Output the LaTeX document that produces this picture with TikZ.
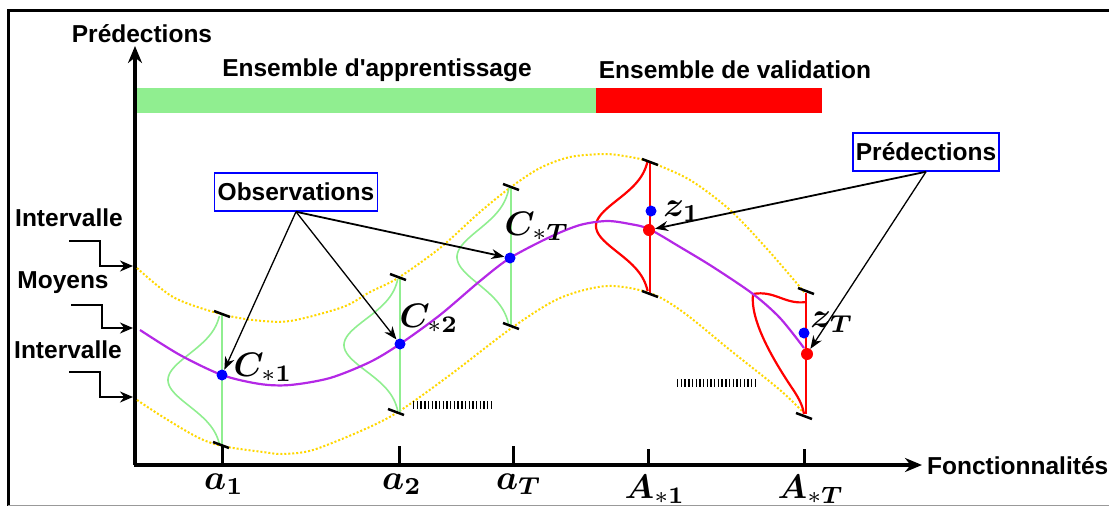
\documentclass[tikz,border=0pt]{standalone}
\usepackage[no-math]{fontspec}
\setmainfont{Liberation Sans}[Ligatures=TeXOff]
\usepackage{amsmath,bm}
\usetikzlibrary{arrows.meta}
\definecolor{lgreen}{HTML}{90EE90}
\definecolor{gold}{HTML}{FFD700}
\definecolor{purp}{RGB}{180,40,230}
\tikzset{
  lbl/.style={font=\fontsize{24.5}{28}\selectfont\bfseries, inner sep=0pt},
  callbox/.style={lbl, draw=blue, line width=1.5pt, inner sep=3pt, minimum height=38pt},
  bdot/.style={circle, fill=blue, inner sep=0pt, minimum size=11pt},
  rdot/.style={circle, fill=red, inner sep=0pt, minimum size=12pt},
  ytraj/.style={draw=gold, line width=2pt, dash pattern=on 2pt off 2pt},
  ptr/.style={-{Stealth[length=13pt,width=10pt]}, line width=1.3pt},
  barr/.style={-{Stealth[length=13pt,width=11pt]}, line width=2pt},
  axarr/.style={-{Stealth[length=17pt,width=14pt]}, line width=3.5pt},
  itick/.style={line width=2.5pt, black},
  atick/.style={line width=3pt, black},
  hatch/.style={line width=8pt, dash pattern=on 1.4pt off 2.3pt},
  mlow/.style={inner sep=0pt, scale=3.5},
  mup/.style={inner sep=0pt, scale=3.4}
}
\begin{document}
\begin{tikzpicture}[x=1pt,y=-1pt]
\useasboundingbox (0,0) rectangle (1109,507);
% frame
\draw[line width=3pt] (1109,10) -- (8,10) -- (8,505.5);
\draw[line width=1.5pt, gray!80] (8,505.5) -- (1109,505.5);

% bars
\fill[lgreen] (137,88) rectangle (596,113);
\fill[red] (596,88) rectangle (822,113);
\node[lbl] (train) at (377,70) {Ensemble d'apprentissage};
\node[lbl] (valid) at (735,70) {Ensemble de validation};

% axes
\coordinate (O) at (135,465);
\coordinate (ytop) at (135,46);
\coordinate (xend) at (922,465);
\draw[axarr] (O) -- (ytop);
\draw[axarr] ([xshift=-1.5pt]O) -- (xend);
\node[lbl] (ylab) at (142,34) {Prédections};
\node[lbl, anchor=west] (xlab) at (927,466) {Fonctionnalités};

% interval bands (yellow dotted)
\draw[ytraj] plot[smooth] coordinates {(137,268) (173,297) (217,313) (253,320) (290,321) (343,307) (370,292) (398,278) (440,248) (480,212) (511,187) (540,168) (570,157) (605,154) (630,157) (650,162) (690,180) (730,210) (768,250) (805,293)};
\draw[ytraj] plot[smooth] coordinates {(137,400) (163,417) (197,437) (222,446) (263,452) (283,454) (313,450) (363,430) (398,412) (450,375) (513,327) (560,298) (607,286) (650,293) (683,312) (730,350) (780,390) (806,415)};

% green distributions
\draw[lgreen, line width=2pt] (222,315) -- (222,445);
\draw[lgreen, line width=1.6pt] plot[domain=-64:64, samples=60, smooth] ({222-54*exp(-(\x)^2/(2*26^2))}, {380+\x});
\draw[lgreen, line width=2pt] (400,278) -- (400,412);
\draw[lgreen, line width=1.6pt] plot[domain=-66:66, samples=60, smooth] ({400-56*exp(-(\x)^2/(2*26^2))}, {345+\x});
\draw[lgreen, line width=2pt] (511,187) -- (511,327);
\draw[lgreen, line width=1.6pt] plot[domain=-69:69, samples=60, smooth] ({511-54*exp(-(\x)^2/(2*27^2))}, {257+\x});

% red distributions
\draw[red, line width=2.5pt] (650,162) -- (650,294);
\draw[red, line width=2.2pt] plot[domain=-65:65, samples=60, smooth] ({650-54*exp(-(\x)^2/(2*26^2))}, {226+\x});
\draw[red, line width=2.5pt] (806,293) -- (806,414);
\draw[red, line width=2.2pt] (806,302) .. controls (785,305) and (775,290) .. (753,294) .. controls (750,320) and (772,358) .. (792,388) .. controls (801,401) and (803,408) .. (804,414);

% mean curve
\draw[purp, line width=2.2pt] plot[smooth] coordinates {(140,330) (180,355) (222,375) (260,384) (290,385) (330,378) (370,362) (400,344) (440,315) (480,281) (510,258) (550,237) (580,225) (607,221) (630,224) (649,229) (680,247) (713,267) (753,294) (780,318) (804,348)};

% interval end ticks
\foreach \px/\py in {222/314, 221/445, 398/277, 396/412, 511/187, 511/326, 650/162, 650/294, 806/291, 804/416}
  \draw[itick] (\px-8,\py-3) -- (\px+8,\py+3);

% axis ticks
\foreach \px/\py in {222/446, 399/446, 513/446, 648/449, 804/449}
  \draw[atick] (\px,\py) -- (\px,465);

% hatch marks
\draw[hatch] (413,404.5) -- (491,404.5);
\draw[hatch] (677,382.5) -- (756,382.5);

% points
\node[bdot] (c1) at (222,375) {};
\node[bdot] (c2) at (400,344) {};
\node[bdot] (cT) at (510,258) {};
\node[bdot] (z1) at (651,211) {};
\node[bdot] (zT) at (804,333) {};
\node[rdot] (r1) at (649,230) {};
\node[rdot] (rT) at (807,354) {};

% point labels
\node[mup] (lc1) at (263,367) {$\bm{C}_{*\bm{1}}$};
\node[mup] (lc2) at (429,318) {$\bm{C}_{*\bm{2}}$};
\node[mup] (lcT) at (537,226) {$\bm{C}_{*\bm{T}}$};
\node[mlow] (lz1) at (682,211) {$\bm{z}_{\bm{1}}$};
\node[mlow] (lzT) at (832,322) {$\bm{z}_{\bm{T}}$};

% axis labels
\node[mlow] (la1) at (224,484) {$\bm{a}_{\bm{1}}$};
\node[mlow] (la2) at (402,484) {$\bm{a}_{\bm{2}}$};
\node[mlow] (laT) at (519,484) {$\bm{a}_{\bm{T}}$};
\node[mup] (lA1) at (655,489) {$\bm{A}_{*\bm{1}}$};
\node[mup] (lAT) at (811,489) {$\bm{A}_{*\bm{T}}$};

% left labels
\node[lbl] (int1) at (69,218) {Intervalle};
\node[lbl] (moy) at (63,283) {Moyens};
\node[lbl] (int2) at (68,350) {Intervalle};
\coordinate (s1) at (69,241);  \coordinate (t1) at (133,266);
\coordinate (s2) at (71,305);  \coordinate (t2) at (133,328);
\coordinate (s3) at (69,372);  \coordinate (t3) at (133,397);
\draw[barr] (s1) -| (100,266) -- (t1);
\draw[barr] (s2) -| (102,328) -- (t2);
\draw[barr] (s3) -| (100,397) -- (t3);

% callouts
\node[callbox] (obs) at (296,192) {Observations};
\node[callbox] (pred) at (926,152) {Prédections};
\draw[ptr] (obs.south) -- (c1);
\draw[ptr] (obs.south) -- (c2);
\draw[ptr, line width=1.8pt] (obs.south) -- (cT);
\draw[ptr, line width=1.8pt] (pred.south) -- (r1);
\draw[ptr] (pred.south) -- (rT);
\end{tikzpicture}
\end{document}
